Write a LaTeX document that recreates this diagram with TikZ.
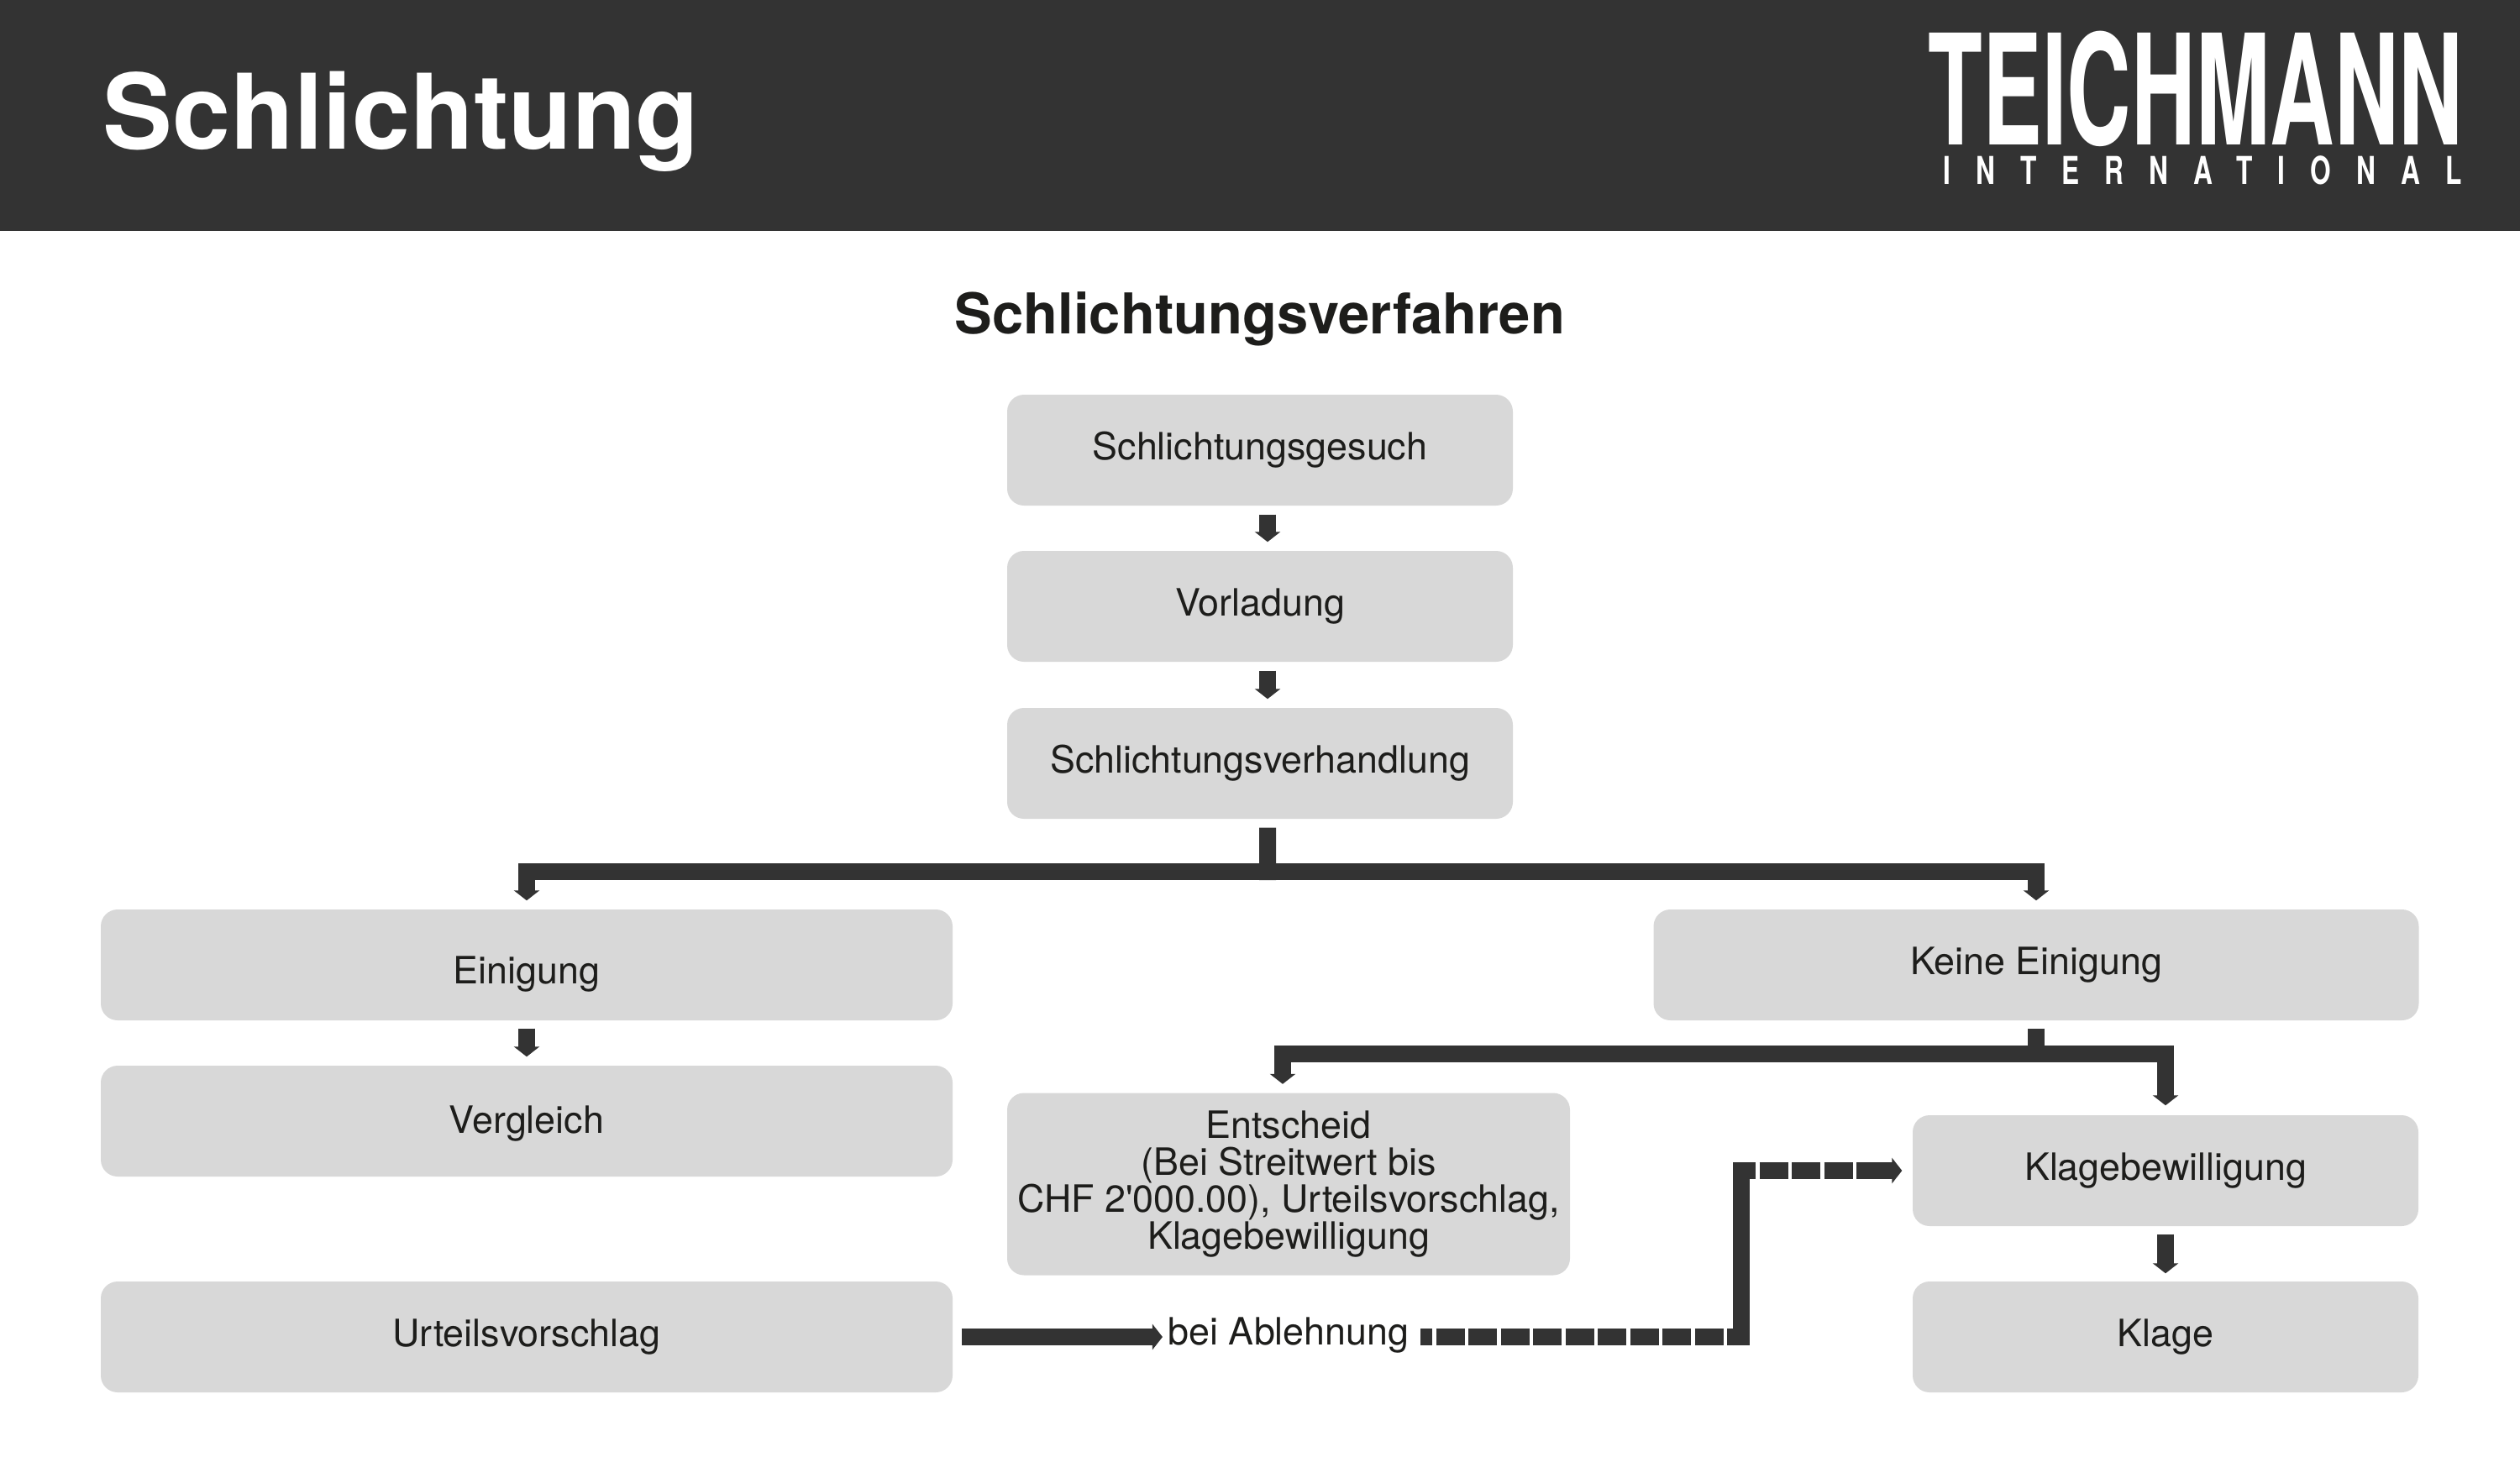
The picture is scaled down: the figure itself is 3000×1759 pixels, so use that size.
\documentclass[tikz,border=0pt]{standalone}
\usepackage{fontspec}
\setmainfont{TeX Gyre Heros}
\newfontfamily\logofont[FakeStretch=.58]{TeX Gyre Heros}
\newfontfamily\sublogofont[FakeStretch=.693,LetterSpace=66]{TeX Gyre Heros}
\usetikzlibrary{arrows.meta,positioning}
\definecolor{headgray}{HTML}{333333}
\definecolor{boxgray}{HTML}{D8D8D8}
\definecolor{textblack}{HTML}{1D1D1B}
\tikzset{>={Triangle[width=3mm,length=1.2mm]}}
\tikzset{stepbox/.style={shape=rectangle, fill=boxgray, rounded corners=2mm, draw=none,
    text=textblack, font=\fontsize{12.75}{12.5}\selectfont, align=center, inner sep=0pt}}
\tikzset{flow/.style={draw=headgray, line width=2mm}}
\tikzset{dashflow/.style={flow, dash pattern=on 3.4mm off .45mm}}

\begin{document}
\begin{tikzpicture}[x=.1mm, y=-.1mm]
    % header
    \path[use as bounding box] (0,0) rectangle (3000,1759);
    \fill[headgray] (0,0) rectangle (3000,275);
    \node[text=white, font=\fontsize{35.3}{36}\bfseries\selectfont, anchor=west, inner sep=0pt] (title) at (122,145) {Schlichtung};
    \node[text=white, font=\logofont\fontsize{52}{52}\bfseries\selectfont] (logo) at (2614,106) {TEICHMANN};
    \node[text=white, font=\sublogofont\fontsize{13}{13}\bfseries\selectfont] (logosub) at (2622,203) {INTERNATIONAL};
    \node[text=textblack, font=\fontsize{19.05}{19.5}\bfseries\selectfont] (heading) at (1500,380) {Schlichtungsverfahren};

    \node[stepbox, minimum width=60.2mm, minimum height=13.2mm] (gesuch) at (1500,536) {Schlichtungsgesuch};
    \node[stepbox, minimum width=60.2mm, minimum height=13.2mm] (vorladung) at (1500,722) {Vorladung};
    \node[stepbox, minimum width=60.2mm, minimum height=13.2mm] (verhandlung) at (1500,909) {Schlichtungsverhandlung};
    \node[stepbox, minimum width=101.4mm, minimum height=13.2mm, text height=5.4mm, text depth=.95mm] (einigung) at (627,1149) {Einigung};
    \node[stepbox, minimum width=91.1mm, minimum height=13.2mm] (keine) at (2424,1149) {Keine Einigung};
    \node[stepbox, minimum width=101.4mm, minimum height=13.2mm, text height=3.8mm, text depth=.95mm] (vergleich) at (627,1335) {Vergleich};
    \node[stepbox, minimum width=67mm, minimum height=21.7mm] (entscheid) at (1534,1410) {Entscheid\\(Bei Streitwert bis\\CHF 2\textquotesingle 000.00), Urteilsvorschlag,\\Klagebewilligung};
    \node[stepbox, minimum width=60.2mm, minimum height=13.2mm] (klagebew) at (2578,1394) {Klagebewilligung};
    \node[stepbox, minimum width=101.4mm, minimum height=13.2mm] (urteil) at (627,1592) {Urteilsvorschlag};
    \node[stepbox, minimum width=60.2mm, minimum height=13.2mm] (klage) at (2578,1592) {Klage};
    \node[text=textblack, font=\fontsize{12.75}{12.5}\selectfont, inner sep=0pt] (ablehnung) at (1534,1590) {bei Ablehnung};

    \coordinate (hubtop) at (1509,1038);
    \coordinate (hubright) at (2424,1255);
    \coordinate (bendlow) at (2073,1592);
    \coordinate (bendhigh) at (2073,1394);
    \coordinate (dashend) at (2211,1394);

    \draw[flow, shorten <=1mm] ([xshift=.9mm]verhandlung.south) -- ([yshift=-1mm]hubtop);
    \draw[flow, ->, shorten >=1mm] (hubtop) -| (einigung.north);
    \draw[flow, ->, shorten >=1mm] (hubtop) -| (keine.north);
    \draw[flow, shorten <=.9mm] (keine.south) -- ([yshift=-1mm]hubright);
    \draw[flow, ->, shorten >=1mm] (hubright) -| ([xshift=-.7mm]entscheid.north);
    \draw[flow, ->, shorten >=1.1mm] (hubright) -| (klagebew.north);

    \draw[flow, ->, shorten <=1mm, shorten >=1mm] ([xshift=.9mm]gesuch.south) -- ([xshift=.9mm]vorladung.north);
    \draw[flow, ->, shorten <=1mm, shorten >=1mm] ([xshift=.9mm]vorladung.south) -- ([xshift=.9mm]verhandlung.north);
    \draw[flow, ->, shorten <=.9mm, shorten >=1mm] (einigung.south) -- (vergleich.north);
    \draw[flow, ->, shorten <=.9mm, shorten >=.9mm] (klagebew.south) -- (klage.north);

    \draw[flow, ->, shorten <=1mm, shorten >=.6mm] (urteil.east) -- (urteil.east -| ablehnung.west);
    \draw[dashflow, dash phase=2mm, shorten <=1.3mm] (urteil.east -| ablehnung.east) -- (bendlow);
    \draw[flow] ([yshift=-1mm]bendlow) -- ([yshift=1mm]bendhigh);
    \draw[dashflow, dash phase=.7mm, shorten <=-1mm] (bendhigh) -- (dashend);
    \draw[flow, ->, shorten >=1.2mm] (dashend) -- (klagebew.west);
\end{tikzpicture}
\end{document}
